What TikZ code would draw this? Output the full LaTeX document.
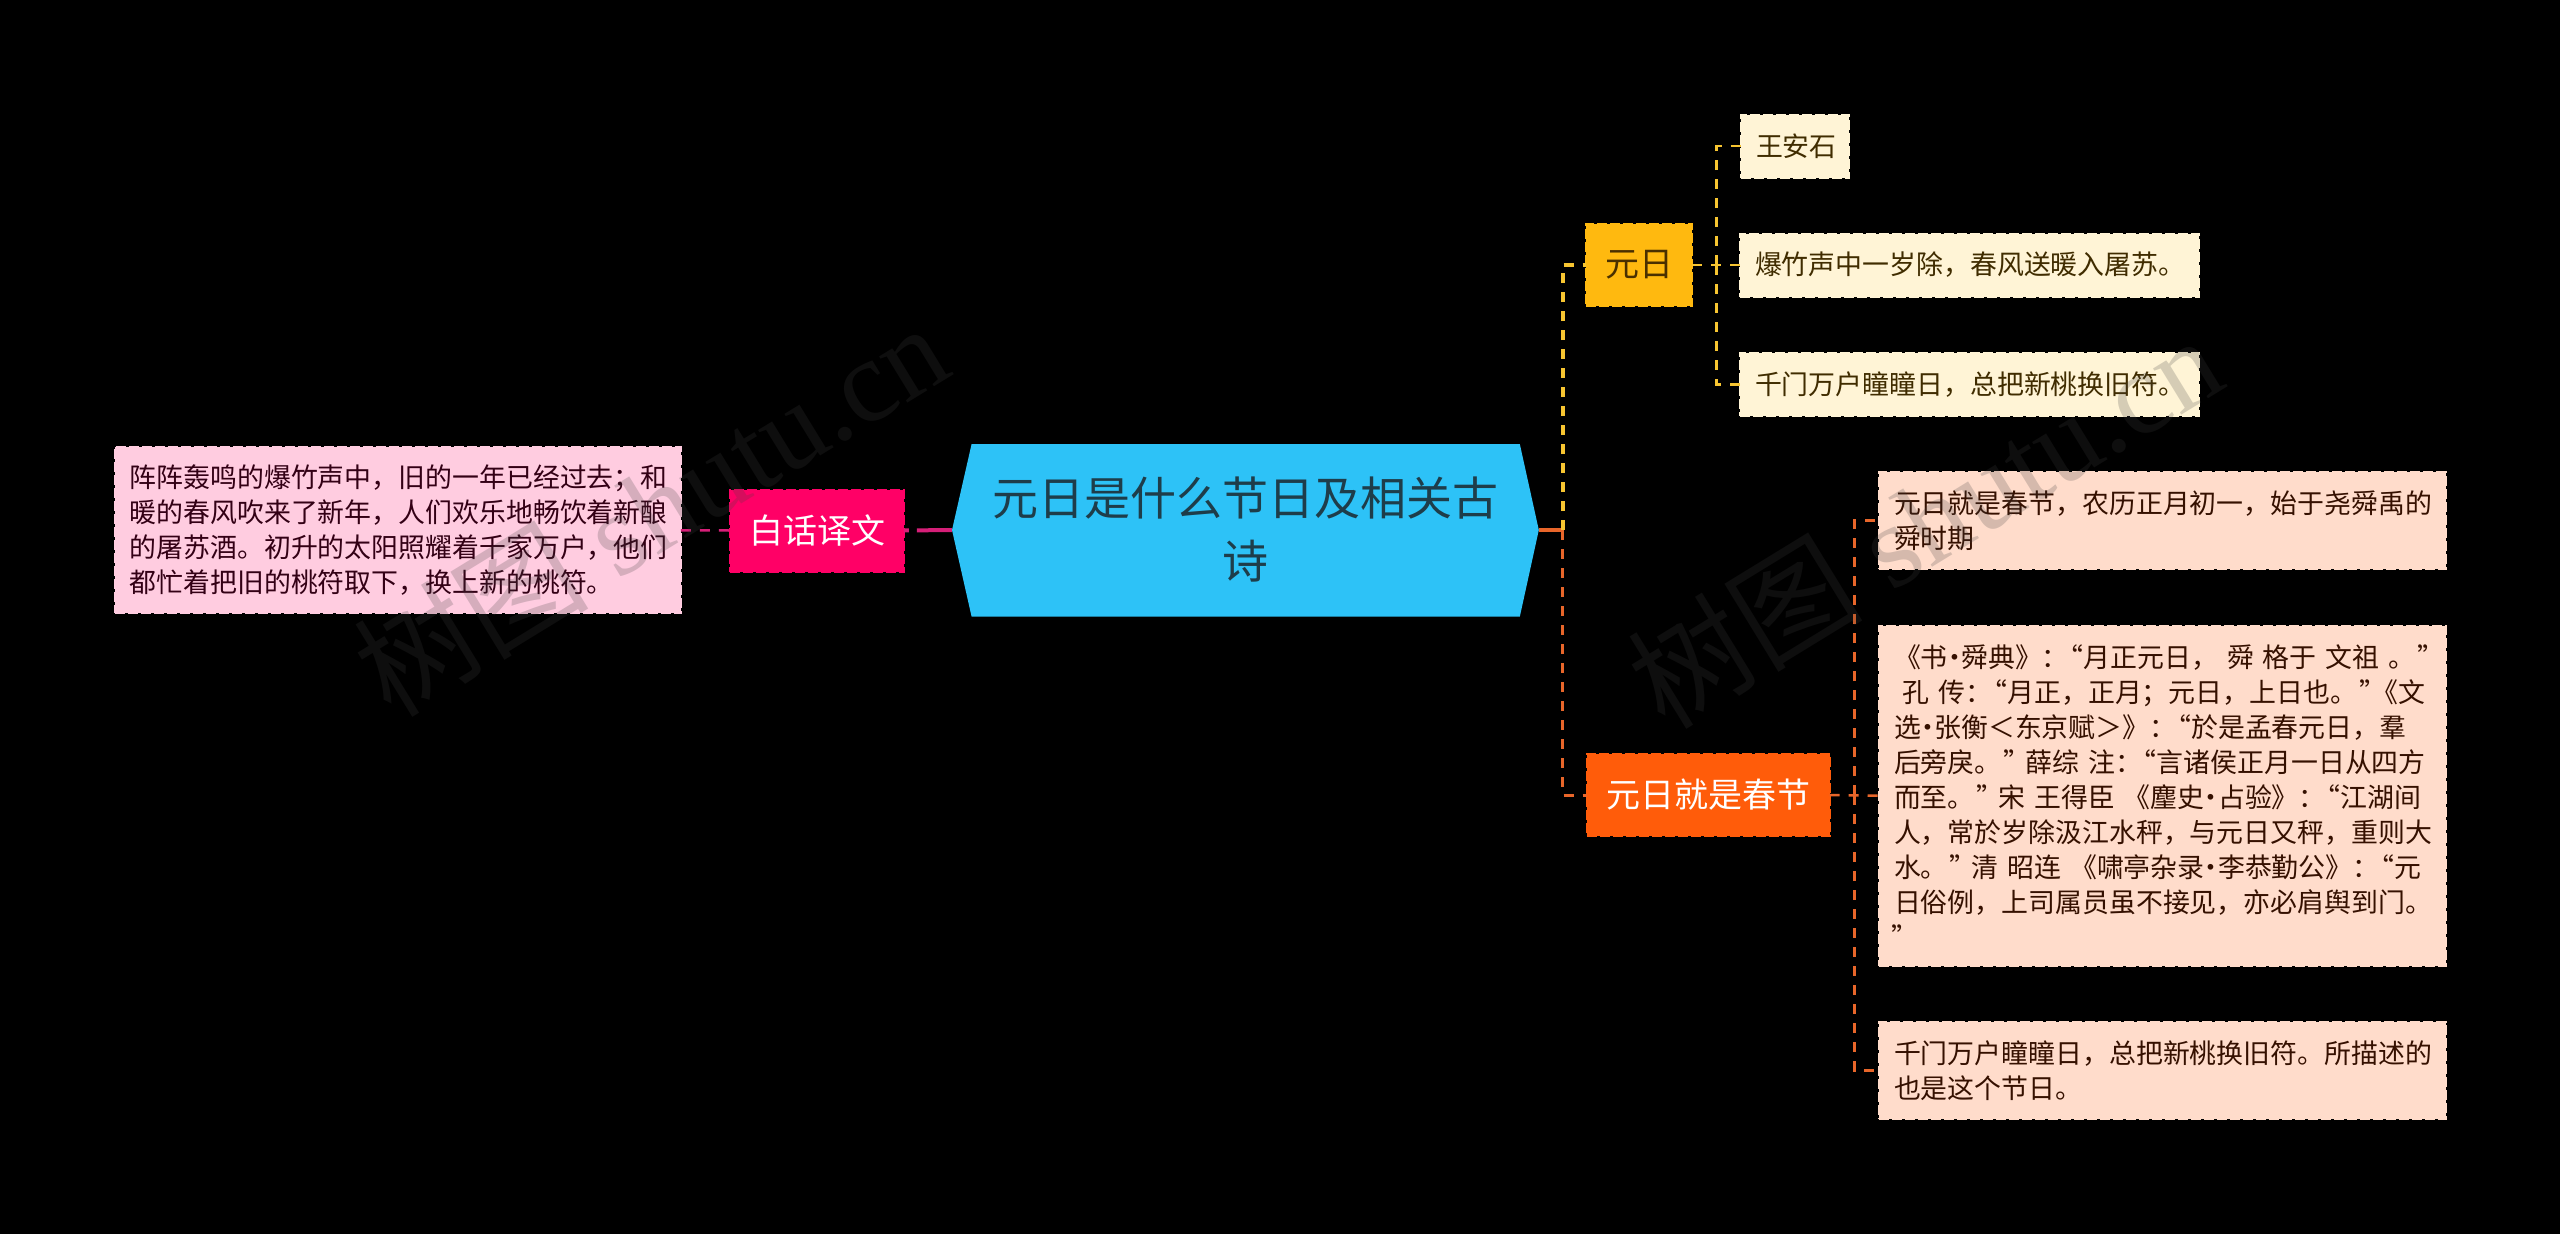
\documentclass[tikz,border=0pt]{standalone}
\usepackage{fontspec}
\setmainfont[WordSpace=1.55]{Noto Sans CJK SC}
\newfontfamily\wmcjk{Noto Sans CJK SC}
\newfontfamily\wmlatin{Liberation Serif}
\newcommand{\qo}{\hbox to .55em{\hss “}}
\newcommand{\qc}{\hbox to .55em{\kern 2pt ”\hss}}
\newcommand{\mdt}{\hbox to .5em{\hss·\hss}}
\definecolor{bgk}{HTML}{000000}
\definecolor{rootc}{HTML}{2DC2F7}
\definecolor{roott}{HTML}{1E3D4A}
\definecolor{yelc}{HTML}{FFB90F}
\definecolor{yelt}{HTML}{4A3000}
\definecolor{yell}{HTML}{FFF4D6}
\definecolor{yellt}{HTML}{402C00}
\definecolor{yline}{HTML}{F7C531}
\definecolor{oric}{HTML}{FF5C0A}
\definecolor{oril}{HTML}{FFDCCB}
\definecolor{orilt}{HTML}{351000}
\definecolor{oline}{HTML}{E8662A}
\definecolor{redc}{HTML}{FF0066}
\definecolor{pinkl}{HTML}{FFCCE0}
\definecolor{pinkt}{HTML}{330015}
\definecolor{mline}{HTML}{D61F78}
\definecolor{wmc}{HTML}{404040}
\tikzset{
  x=1pt,y=-1pt,
  rootfill/.style={fill=rootc},
  roottext/.style={text=roott,align=center,inner sep=0pt,font=\fontsize{46}{63}\selectfont},
  boxy/.style={draw=#1,fill=#1,line width=2pt,dash pattern=on 10pt off 3pt,inner sep=0pt,outer sep=0pt},
  branch/.style n args={4}{boxy=#1,text=#2,minimum width=#3,minimum height=#4,align=center,font=\fontsize{34}{40}\selectfont},
  leaf/.style n args={4}{boxy=#1,text=#2,minimum height=#4,text width=#3-20pt,inner xsep=10pt,align=left,font=\fontsize{26.9}{35}\selectfont,execute at begin node={\leftskip=5pt}},
  trunkY/.style={draw=yline,line width=4pt,dash pattern=on 10pt off 9pt},
  trunkO/.style={draw=oline,line width=3pt,dash pattern=on 10pt off 9pt},
  subY/.style={draw=yline,line width=2.5pt,dash pattern=on 10pt off 9pt},
  subO/.style={draw=oline,line width=2.5pt,dash pattern=on 10pt off 9pt},
  subM/.style={draw=mline,line width=2.5pt,dash pattern=on 10pt off 9pt},
  stubO/.style={draw=oline,line width=4pt},
  stubM/.style={draw=mline,line width=4pt,dash pattern=on 35pt off 8pt},
  wm/.style={text=wmc,text opacity=.22,rotate=31.5,inner sep=0pt,font=\fontsize{118}{118}\selectfont\wmlatin}
}
\begin{document}
\begin{tikzpicture}
\useasboundingbox (0,0) rectangle (2560,1234);
\fill[bgk] (0,0) rectangle (2560,1234);
% central hexagon
\fill[rootfill] (952,530) -- (971.6,444) -- (1519.8,444) -- (1538.8,530) -- (1519.8,616.7) -- (971.6,616.7) -- cycle;
\node[roottext,minimum width=586.8pt,minimum height=172.7pt] (root) at (1245.4,530) {元日是什么节日及相关古\\诗};
% branches
\node[branch={yelc}{yelt}{106pt}{82pt}] (yd) at (1639,265) {元日};
\node[branch={oric}{white}{243pt}{82pt}] (cj) at (1708,795) {元日就是春节};
\node[branch={redc}{white}{174pt}{82pt}] (bh) at (817,530.5) {白话译文};
% leaves
\node[leaf={yell}{yellt}{108pt}{63pt}] (wang) at (1795,146) {王安石};
\node[leaf={yell}{yellt}{459pt}{63pt}] (bao) at (1969.5,265) {爆竹声中一岁除，春风送暖入屠苏。};
\node[leaf={yell}{yellt}{459pt}{63pt}] (qian) at (1969.5,384.5) {千门万户瞳瞳日，总把新桃换旧符。};
\node[leaf={oril}{orilt}{566.6pt}{97pt}] (o1) at (2162.3,520.5) {元日就是春节，农历正月初一，始于尧舜禹的\\舜时期};
\node[leaf={oril}{orilt}{566.6pt}{340pt}] (o2) at (2162.3,795.7) {《书\mdt 舜典》：\qo 月正元日， 舜 格于 文祖 。\qc\\
\ 孔 传：\qo 月正，正月；元日，上日也。\qc《文\\
选\mdt 张衡＜东京赋＞》：\qo 於是孟春元日，羣\\
后旁戾。\qc{} 薛综 注：\qo 言诸侯正月一日从四方\\
而至。\qc{} 宋 王得臣 《麈史\mdt 占验》：\qo 江湖间\\
人，常於岁除汲江水秤，与元日又秤，重则大\\
水。\qc{} 清 昭连 《啸亭杂录\mdt 李恭勤公》：\qo 元\\
日俗例，上司属员虽不接见，亦必肩舆到门。\\
\qc};
\node[leaf={oril}{orilt}{566.6pt}{97pt}] (o3) at (2162.3,1070.3) {千门万户瞳瞳日，总把新桃换旧符。所描述的\\也是这个节日。};
\node[leaf={pinkl}{pinkt}{566.2pt}{166pt}] (p1) at (397.7,530.3) {阵阵轰鸣的爆竹声中，旧的一年已经过去；和\\暖的春风吹来了新年，人们欢乐地畅饮着新酿\\的屠苏酒。初升的太阳照耀着千家万户，他们\\都忙着把旧的桃符取下，换上新的桃符。};
% connector coordinates
\coordinate (tr) at (1562.5,530);
\coordinate (ty) at (1716.5,265);
\coordinate (to) at (1854.6,795);
% connectors
\draw[stubO] (root.east) -- (tr);
\draw[trunkY] (tr) |- (yd.west);
\draw[trunkO] (tr) |- (cj.west);
\draw[subY] (ty) |- (wang.west);
\draw[subY] (ty) |- (qian.west);
\draw[subY] (yd.east) -- (bao.west);
\draw[subO] (to) |- (o1.west);
\draw[subO] (to) |- (o3.west);
\draw[subO] (cj.east) -- (o2.west);
\draw[stubM] (root.west) -- (bh.east);
\draw[subM] (p1.east) -- (bh.west);
% watermarks
\node[wm] (w1) at (650,508) {{\wmcjk 树图} shutu.cn};
\node[wm] (w2) at (1924,520) {{\wmcjk 树图} shutu.cn};
\end{tikzpicture}
\end{document}
